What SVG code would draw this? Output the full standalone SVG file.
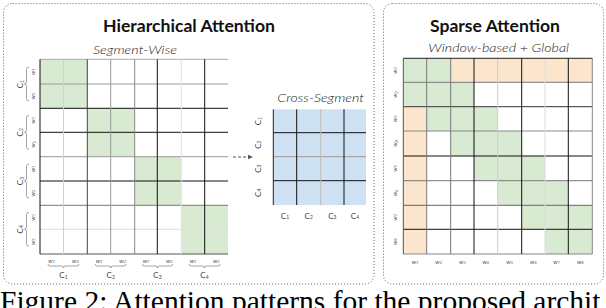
<svg xmlns="http://www.w3.org/2000/svg" width="606" height="308" viewBox="0 0 606 308">
<style>
.panel{fill:none;stroke:#555;stroke-width:0.9;stroke-dasharray:1 2}
.title{font-family:Lato,"Open Sans",sans-serif;font-weight:700;font-size:17px;fill:#111;text-anchor:middle}
.sub{font-family:Lato,"Open Sans",sans-serif;font-weight:300;font-style:italic;font-size:12px;fill:#222;text-anchor:middle}
.lbl{font-family:Lato,"Open Sans",sans-serif;font-size:8px;fill:#444;text-anchor:middle;dominant-baseline:central}
.wl{font-family:Lato,"Open Sans",sans-serif;font-style:italic;font-size:6px;fill:#555;text-anchor:middle;dominant-baseline:central}
.g{fill:#d9ead3}
.o{fill:#fce5cd}
.b{fill:#cfe2f3}
.ln{stroke-width:1;fill:none}
.br{fill:none;stroke:#666;stroke-width:0.6}
.cap{font-family:"Liberation Serif","Times New Roman",serif;font-size:29.5px;fill:#000}
</style>
<defs>
<marker id="ah" markerWidth="6" markerHeight="6" refX="5" refY="3" orient="auto" markerUnits="userSpaceOnUse">
<path d="M0,0.8 L5,3 L0,5.2 Z" fill="#555"/>
</marker>
</defs>
<rect x="0" y="0" width="606" height="308" fill="#fff"/>

<g id="panel-hierarchical">
<rect class="panel" x="3.5" y="3.5" width="370.5" height="280.5" rx="9"/>
<text class="title" x="189" y="31.5" textLength="172" lengthAdjust="spacingAndGlyphs">Hierarchical Attention</text>
</g>

<g id="segment-wise">
<text class="sub" x="135" y="53.5" textLength="84" lengthAdjust="spacingAndGlyphs">Segment-Wise</text>
<rect class="g" x="40" y="59.3" width="47.3" height="49"/>
<rect class="g" x="87.3" y="108.3" width="47.4" height="48.4"/>
<rect class="g" x="134.7" y="156.7" width="46.6" height="48.6"/>
<rect class="g" x="181.3" y="205.3" width="46.7" height="48.7"/>
<g class="ln">
<line x1="40" y1="59.3" x2="228" y2="59.3" stroke="#aaa"/>
<line x1="40" y1="84" x2="228" y2="84" stroke="#999"/>
<line x1="40" y1="108.3" x2="228" y2="108.3" stroke="#111"/>
<line x1="40" y1="132.3" x2="228" y2="132.3" stroke="#111"/>
<line x1="40" y1="156.7" x2="228" y2="156.7" stroke="#999"/>
<line x1="40" y1="181" x2="228" y2="181" stroke="#111"/>
<line x1="40" y1="205.3" x2="228" y2="205.3" stroke="#777"/>
<line x1="40" y1="229.3" x2="228" y2="229.3" stroke="#ddd"/>
<line x1="40" y1="254" x2="228" y2="254" stroke="#555"/>
<line x1="63.5" y1="59.3" x2="63.5" y2="254" stroke="#d0d0d0"/>
<line x1="87.3" y1="59.3" x2="87.3" y2="254" stroke="#444"/>
<line x1="110.7" y1="59.3" x2="110.7" y2="254" stroke="#999"/>
<line x1="134.7" y1="59.3" x2="134.7" y2="254" stroke="#888"/>
<line x1="157.3" y1="59.3" x2="157.3" y2="254" stroke="#111"/>
<line x1="181.3" y1="59.3" x2="181.3" y2="254" stroke="#e2e2e2"/>
<line x1="204.7" y1="59.3" x2="204.7" y2="254" stroke="#111"/>
<line x1="40" y1="59.3" x2="40" y2="254" stroke="#111"/>
</g>
<!-- row labels -->
<text class="lbl" transform="rotate(-90 20 84)" x="20" y="84">C<tspan font-size="5" dy="1.5">1</tspan></text>
<text class="lbl" transform="rotate(-90 20 132.3)" x="20" y="132.3">C<tspan font-size="5" dy="1.5">2</tspan></text>
<text class="lbl" transform="rotate(-90 20 181)" x="20" y="181">C<tspan font-size="5" dy="1.5">3</tspan></text>
<text class="lbl" transform="rotate(-90 20 229.3)" x="20" y="229.3">C<tspan font-size="5" dy="1.5">4</tspan></text>
<path class="br" d="M29,67 Q26.5,67 26.5,69.5 V81.5 Q26.5,84 24.5,84 Q26.5,84 26.5,86.5 V98.5 Q26.5,101 29,101"/>
<path class="br" d="M29,115.3 Q26.5,115.3 26.5,117.8 V129.8 Q26.5,132.3 24.5,132.3 Q26.5,132.3 26.5,134.8 V146.8 Q26.5,149.3 29,149.3"/>
<path class="br" d="M29,164 Q26.5,164 26.5,166.5 V178.5 Q26.5,181 24.5,181 Q26.5,181 26.5,183.5 V195.5 Q26.5,198 29,198"/>
<path class="br" d="M29,212.3 Q26.5,212.3 26.5,214.8 V226.8 Q26.5,229.3 24.5,229.3 Q26.5,229.3 26.5,231.8 V243.8 Q26.5,246.3 29,246.3"/>
<text class="wl" transform="rotate(-90 32.5 71.7)" x="32.5" y="71.7">w<tspan font-size="4" dy="1">1</tspan></text>
<text class="wl" transform="rotate(-90 32.5 96.2)" x="32.5" y="96.2">w<tspan font-size="4" dy="1">2</tspan></text>
<text class="wl" transform="rotate(-90 32.5 120.3)" x="32.5" y="120.3">w<tspan font-size="4" dy="1">1</tspan></text>
<text class="wl" transform="rotate(-90 32.5 144.5)" x="32.5" y="144.5">w<tspan font-size="4" dy="1">2</tspan></text>
<text class="wl" transform="rotate(-90 32.5 168.9)" x="32.5" y="168.9">w<tspan font-size="4" dy="1">1</tspan></text>
<text class="wl" transform="rotate(-90 32.5 193.2)" x="32.5" y="193.2">w<tspan font-size="4" dy="1">2</tspan></text>
<text class="wl" transform="rotate(-90 32.5 217.3)" x="32.5" y="217.3">w<tspan font-size="4" dy="1">1</tspan></text>
<text class="wl" transform="rotate(-90 32.5 241.7)" x="32.5" y="241.7">w<tspan font-size="4" dy="1">2</tspan></text>
<!-- column labels -->
<text class="wl" x="51.7" y="260">w<tspan font-size="4" dy="1">1</tspan></text>
<text class="wl" x="75.4" y="260">w<tspan font-size="4" dy="1">2</tspan></text>
<text class="wl" x="99" y="260">w<tspan font-size="4" dy="1">1</tspan></text>
<text class="wl" x="122.7" y="260">w<tspan font-size="4" dy="1">2</tspan></text>
<text class="wl" x="146" y="260">w<tspan font-size="4" dy="1">1</tspan></text>
<text class="wl" x="169.3" y="260">w<tspan font-size="4" dy="1">2</tspan></text>
<text class="wl" x="193" y="260">w<tspan font-size="4" dy="1">1</tspan></text>
<text class="wl" x="216.3" y="260">w<tspan font-size="4" dy="1">2</tspan></text>
<path class="br" d="M48,264 Q48,266 50,266 H61.5 Q63.5,266 63.5,268 Q63.5,266 65.5,266 H77 Q79,266 79,264"/>
<path class="br" d="M95.3,264 Q95.3,266 97.3,266 H108.7 Q110.7,266 110.7,268 Q110.7,266 112.7,266 H124 Q126,266 126,264"/>
<path class="br" d="M142.3,264 Q142.3,266 144.3,266 H155.5 Q157.5,266 157.5,268 Q157.5,266 159.5,266 H170.7 Q172.7,266 172.7,264"/>
<path class="br" d="M189,264 Q189,266 191,266 H202.5 Q204.5,266 204.5,268 Q204.5,266 206.5,266 H218 Q220,266 220,264"/>
<text class="lbl" x="63.5" y="275">C<tspan font-size="5" dy="1.5">1</tspan></text>
<text class="lbl" x="110.7" y="275">C<tspan font-size="5" dy="1.5">2</tspan></text>
<text class="lbl" x="157.5" y="275">C<tspan font-size="5" dy="1.5">3</tspan></text>
<text class="lbl" x="204.5" y="275">C<tspan font-size="5" dy="1.5">4</tspan></text>
</g>

<g id="cross-segment">
<text class="sub" x="320.7" y="101.5" textLength="86.7" lengthAdjust="spacingAndGlyphs">Cross-Segment</text>
<rect class="b" x="273.3" y="109.3" width="92.7" height="95.7"/>
<g class="ln">
<line x1="273.3" y1="132.7" x2="366" y2="132.7" stroke="#111"/>
<line x1="273.3" y1="156.7" x2="366" y2="156.7" stroke="#999"/>
<line x1="273.3" y1="180.7" x2="366" y2="180.7" stroke="#111"/>
<line x1="296.7" y1="109.3" x2="296.7" y2="205" stroke="#111"/>
<line x1="320.7" y1="109.3" x2="320.7" y2="205" stroke="#bbb"/>
<line x1="344" y1="109.3" x2="344" y2="205" stroke="#111"/>
<line x1="273.3" y1="109.3" x2="273.3" y2="205" stroke="#222"/>
</g>
<text class="lbl" transform="rotate(-90 258 121)" x="258" y="121">C<tspan font-size="5" dy="1.5">1</tspan></text>
<text class="lbl" transform="rotate(-90 258 144.7)" x="258" y="144.7">C<tspan font-size="5" dy="1.5">2</tspan></text>
<text class="lbl" transform="rotate(-90 258 168.7)" x="258" y="168.7">C<tspan font-size="5" dy="1.5">3</tspan></text>
<text class="lbl" transform="rotate(-90 258 192.8)" x="258" y="192.8">C<tspan font-size="5" dy="1.5">4</tspan></text>
<text class="lbl" x="285" y="215.5">C<tspan font-size="5" dy="1.5">1</tspan></text>
<text class="lbl" x="308.7" y="215.5">C<tspan font-size="5" dy="1.5">2</tspan></text>
<text class="lbl" x="332.3" y="215.5">C<tspan font-size="5" dy="1.5">3</tspan></text>
<text class="lbl" x="355" y="215.5">C<tspan font-size="5" dy="1.5">4</tspan></text>
</g>

<g id="connectors">
<line x1="233" y1="157" x2="253" y2="157" stroke="#555" stroke-width="1" stroke-dasharray="3 2" marker-end="url(#ah)"/>
</g>

<g id="panel-sparse">
<rect class="panel" x="383.5" y="3.5" width="220" height="280.5" rx="9"/>
<text class="title" x="495" y="32" textLength="130" lengthAdjust="spacingAndGlyphs">Sparse Attention</text>
<text class="sub" x="498.7" y="52" textLength="140.7" lengthAdjust="spacingAndGlyphs">Window-based + Global</text>
</g>

<g id="sparse-grid">
<rect class="g" x="403.3" y="58.3" width="47.4" height="24"/>
<rect class="o" x="450.7" y="58.3" width="141.6" height="24"/>
<rect class="g" x="403.3" y="82.3" width="70.7" height="24.4"/>
<rect class="g" x="426.7" y="106.7" width="71" height="24.3"/>
<rect class="g" x="450.7" y="131" width="71" height="25"/>
<rect class="g" x="474" y="156" width="71" height="24.7"/>
<rect class="g" x="497.7" y="180.7" width="70.6" height="24.6"/>
<rect class="g" x="521.7" y="205.3" width="70.6" height="24"/>
<rect class="g" x="545" y="229.3" width="47.3" height="24.7"/>
<rect class="o" x="403.3" y="106.7" width="23.4" height="147.3"/>
<g class="ln">
<line x1="403.3" y1="82.3" x2="592.3" y2="82.3" stroke="#777"/>
<line x1="403.3" y1="106.7" x2="592.3" y2="106.7" stroke="#333"/>
<line x1="403.3" y1="131" x2="592.3" y2="131" stroke="#888"/>
<line x1="403.3" y1="156" x2="592.3" y2="156" stroke="#111"/>
<line x1="403.3" y1="180.7" x2="592.3" y2="180.7" stroke="#777"/>
<line x1="403.3" y1="205.3" x2="592.3" y2="205.3" stroke="#666"/>
<line x1="403.3" y1="229.3" x2="592.3" y2="229.3" stroke="#111"/>
<line x1="403.3" y1="254" x2="592.3" y2="254" stroke="#888"/>
<line x1="426.7" y1="58.3" x2="426.7" y2="254" stroke="#777"/>
<line x1="450.7" y1="58.3" x2="450.7" y2="254" stroke="#777"/>
<line x1="474" y1="58.3" x2="474" y2="254" stroke="#111"/>
<line x1="497.7" y1="58.3" x2="497.7" y2="254" stroke="#ccc"/>
<line x1="521.7" y1="58.3" x2="521.7" y2="254" stroke="#111"/>
<line x1="545" y1="58.3" x2="545" y2="254" stroke="#ddd"/>
<line x1="568.3" y1="58.3" x2="568.3" y2="254" stroke="#111"/>
<line x1="592.3" y1="58.3" x2="592.3" y2="254" stroke="#888"/>
<line x1="403.3" y1="58.3" x2="403.3" y2="254" stroke="#555"/>
<line x1="403.3" y1="58.3" x2="592.3" y2="58.3" stroke="#222"/>
</g>
<text class="wl" transform="rotate(-90 394.5 70.3)" x="394.5" y="70.3">w<tspan font-size="4" dy="1">1</tspan></text>
<text class="wl" transform="rotate(-90 394.5 94.5)" x="394.5" y="94.5">w<tspan font-size="4" dy="1">2</tspan></text>
<text class="wl" transform="rotate(-90 394.5 118.8)" x="394.5" y="118.8">w<tspan font-size="4" dy="1">3</tspan></text>
<text class="wl" transform="rotate(-90 394.5 143.5)" x="394.5" y="143.5">w<tspan font-size="4" dy="1">4</tspan></text>
<text class="wl" transform="rotate(-90 394.5 168.3)" x="394.5" y="168.3">w<tspan font-size="4" dy="1">5</tspan></text>
<text class="wl" transform="rotate(-90 394.5 193)" x="394.5" y="193">w<tspan font-size="4" dy="1">6</tspan></text>
<text class="wl" transform="rotate(-90 394.5 217.3)" x="394.5" y="217.3">w<tspan font-size="4" dy="1">7</tspan></text>
<text class="wl" transform="rotate(-90 394.5 241.7)" x="394.5" y="241.7">w<tspan font-size="4" dy="1">8</tspan></text>
<text class="wl" x="415" y="261">w<tspan font-size="4" dy="1">1</tspan></text>
<text class="wl" x="438.7" y="261">w<tspan font-size="4" dy="1">2</tspan></text>
<text class="wl" x="462.3" y="261">w<tspan font-size="4" dy="1">3</tspan></text>
<text class="wl" x="485.8" y="261">w<tspan font-size="4" dy="1">4</tspan></text>
<text class="wl" x="509.7" y="261">w<tspan font-size="4" dy="1">5</tspan></text>
<text class="wl" x="533.3" y="261">w<tspan font-size="4" dy="1">6</tspan></text>
<text class="wl" x="556.7" y="261">w<tspan font-size="4" dy="1">7</tspan></text>
<text class="wl" x="580.3" y="261">w<tspan font-size="4" dy="1">8</tspan></text>
</g>

<g id="caption">
<text class="cap" x="0" y="311">Figure 2: Attention patterns for the proposed archit</text>
</g>
</svg>
